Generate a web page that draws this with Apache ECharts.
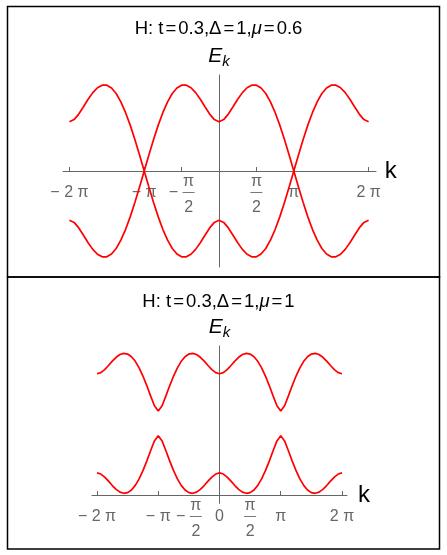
<!DOCTYPE html>
<html>
<head>
<meta charset="utf-8">
<script src="https://cdn.jsdelivr.net/npm/echarts@6/dist/echarts.min.js"></script>
<style>
  html, body { margin: 0; padding: 0; background: #fff; }
  #chart_view { width: 447px; height: 555px; }
</style>
</head>
<body>
<div id="chart_view"></div>
<script>
// k sample points, in sixteenths of pi
var kSixteenths = [-32, -31, -30, -29, -28, -27, -26, -25, -24, -23, -22, -21, -20, -19, -18, -17, -16,
    -15, -14, -13, -12, -11, -10, -9, -8, -7, -6, -5, -4, -3, -2, -1, 0,
    1, 2, 3, 4, 5, 6, 7, 8, 9, 10, 11, 12, 13, 14, 15, 16,
    17, 18, 19, 20, 21, 22, 23, 24, 25, 26, 27, 28, 29, 30, 31, 32];

// top panel (mu = 0.6), the two bands
var topBandA = [-1.2, -1.251, -1.385, -1.563, -1.746, -1.907, -2.026, -2.089, -2.088, -2.020, -1.885, -1.684, -1.425, -1.116, -0.767, -0.390, 0,
    0.390, 0.767, 1.116, 1.425, 1.684, 1.885, 2.020, 2.088, 2.089, 2.026, 1.907, 1.746, 1.563, 1.385, 1.251, 1.2,
    1.251, 1.385, 1.563, 1.746, 1.907, 2.026, 2.089, 2.088, 2.020, 1.885, 1.684, 1.425, 1.116, 0.767, 0.390, 0,
    -0.390, -0.767, -1.116, -1.425, -1.684, -1.885, -2.020, -2.088, -2.089, -2.026, -1.907, -1.746, -1.563, -1.385, -1.251, -1.2];
var topBandB = [1.2, 1.251, 1.385, 1.563, 1.746, 1.907, 2.026, 2.089, 2.088, 2.020, 1.885, 1.684, 1.425, 1.116, 0.767, 0.390, 0,
    -0.390, -0.767, -1.116, -1.425, -1.684, -1.885, -2.020, -2.088, -2.089, -2.026, -1.907, -1.746, -1.563, -1.385, -1.251, -1.2,
    -1.251, -1.385, -1.563, -1.746, -1.907, -2.026, -2.089, -2.088, -2.020, -1.885, -1.684, -1.425, -1.116, -0.767, -0.390, 0,
    0.390, 0.767, 1.116, 1.425, 1.684, 1.885, 2.020, 2.088, 2.089, 2.026, 1.907, 1.746, 1.563, 1.385, 1.251, 1.2];

// bottom panel (mu = 1)
var botUpper = [1.6, 1.636, 1.733, 1.866, 2.007, 2.132, 2.220, 2.257, 2.236, 2.151, 2.002, 1.792, 1.527, 1.219, 0.886, 0.567, 0.4,
    0.567, 0.886, 1.219, 1.527, 1.792, 2.002, 2.151, 2.236, 2.257, 2.220, 2.132, 2.007, 1.866, 1.733, 1.636, 1.6,
    1.636, 1.733, 1.866, 2.007, 2.132, 2.220, 2.257, 2.236, 2.151, 2.002, 1.792, 1.527, 1.219, 0.886, 0.567, 0.4,
    0.567, 0.886, 1.219, 1.527, 1.792, 2.002, 2.151, 2.236, 2.257, 2.220, 2.132, 2.007, 1.866, 1.733, 1.636, 1.6];
var botLower = [-1.6, -1.636, -1.733, -1.866, -2.007, -2.132, -2.220, -2.257, -2.236, -2.151, -2.002, -1.792, -1.527, -1.219, -0.886, -0.567, -0.4,
    -0.567, -0.886, -1.219, -1.527, -1.792, -2.002, -2.151, -2.236, -2.257, -2.220, -2.132, -2.007, -1.866, -1.733, -1.636, -1.6,
    -1.636, -1.733, -1.866, -2.007, -2.132, -2.220, -2.257, -2.236, -2.151, -2.002, -1.792, -1.527, -1.219, -0.886, -0.567, -0.4,
    -0.567, -0.886, -1.219, -1.527, -1.792, -2.002, -2.151, -2.236, -2.257, -2.220, -2.132, -2.007, -1.866, -1.733, -1.636, -1.6];

// tick labels (positions in units of pi)
var topTickPi = [-2, -1, -0.5, 0.5, 1, 2];
var topTickText = ['− 2 π', '− π', '−π/2', 'π/2', 'π', '2 π'];
var topTickMarks = [-2, -1, -0.5, 0.5, 1, 2];
var botTickPi = [-2, -1, -0.5, 0, 0.5, 1, 2];
var botTickText = ['− 2 π', '− π', '−π/2', '0', 'π/2', 'π', '2 π'];
var botTickMarks = [-2, -1, 1, 2];

// title pieces, split around the "=" signs
var topTitle = ['H: t', '0.3,Δ', '1,', '0.6'];
var botTitle = ['H: t', '0.3,Δ', '1,', '1'];

var FONT = '"Liberation Sans", Arial, sans-serif';
var PI = Math.PI;

function pairs(vals) {
    return kSixteenths.map(function (n, i) { return [n * PI / 16, vals[i]]; });
}
function rad(list) {
    return list.map(function (v) { return v * PI; });
}

// turn "π/2" style text into stacked rich text
function richTick(txt) {
    if (txt.indexOf('/') >= 0) {
        if (txt.charAt(0) === '−') {
            return '{nn|π}\n{m|− }{bar|}\n{dn|2}';
        }
        return '{n|π}\n{bar|}\n{d|2}';
    }
    return '{g1|}\n{m|' + txt + '}\n{g2|}';
}
var tickRich = {
    n: { fontSize: 16, color: '#666', fontFamily: FONT, lineHeight: 20 },
    d: { fontSize: 16, color: '#666', fontFamily: FONT, lineHeight: 29 },
    nn: { fontSize: 16, color: '#666', fontFamily: FONT, lineHeight: 20, padding: [0, 0, 0, 14] },
    dn: { fontSize: 16, color: '#666', fontFamily: FONT, lineHeight: 29, padding: [0, 0, 0, 14] },
    m: { fontSize: 16, color: '#666', fontFamily: FONT, lineHeight: 1 },
    bar: { width: 12, height: 1, backgroundColor: '#777' },
    g1: { height: 20 },
    g2: { height: 29 }
};

function makeXAxis(idx, min, max, tickPi, tickText, marks, offset) {
    return {
        gridIndex: idx, type: 'value', min: min, max: max,
        position: 'bottom', offset: offset,
        name: 'k', nameLocation: 'end', nameGap: 7,
        nameTextStyle: { fontSize: 24, color: '#000', fontFamily: FONT, verticalAlign: 'middle' },
        axisLine: { show: true, onZero: false, lineStyle: { color: '#666', width: 1 } },
        axisTick: { show: true, inside: true, length: 4, customValues: rad(marks), lineStyle: { color: '#666' } },
        axisLabel: {
            show: true, customValues: rad(tickPi), margin: 26, verticalAlign: 'middle',
            formatter: function (v) {
                var p = v / PI;
                for (var i = 0; i < tickPi.length; i++) {
                    if (Math.abs(tickPi[i] - p) < 1e-6) return richTick(tickText[i]);
                }
                return '';
            },
            rich: tickRich
        },
        splitLine: { show: false }
    };
}

function makeYAxis(idx, min, max) {
    return {
        gridIndex: idx, type: 'value', min: min, max: max,
        name: '{e|E}{s|k}', nameLocation: 'end', nameGap: 5.5,
        nameTextStyle: {
            align: 'center', verticalAlign: 'bottom',
            rich: {
                e: { fontSize: 21, fontStyle: 'italic', color: '#000', fontFamily: FONT, lineHeight: 22 },
                s: { fontSize: 15, fontStyle: 'italic', color: '#000', fontFamily: FONT, padding: [11, 0, 0, 0] }
            }
        },
        axisLine: { show: true, onZero: true, lineStyle: { color: '#666', width: 1 } },
        axisTick: { show: false },
        axisLabel: { show: false },
        splitLine: { show: false }
    };
}

function curve(vals, idx) {
    return {
        type: 'line', xAxisIndex: idx, yAxisIndex: idx,
        data: pairs(vals), showSymbol: false, smooth: false,
        lineStyle: { color: '#ff0000', width: 1.7 },
        silent: true
    };
}

var titleRich = {
    a: { fontSize: 18.5, color: '#000', fontFamily: FONT, fontWeight: 'normal', lineHeight: 20 },
    q: { fontSize: 18.5, color: '#000', fontFamily: FONT, fontWeight: 'normal', lineHeight: 20, padding: [0, 2, 0, 2] },
    m: { fontSize: 18.5, color: '#000', fontFamily: FONT, fontWeight: 'normal', fontStyle: 'italic', lineHeight: 20 }
};
function titleText(p) {
    return '{a|' + p[0] + '}{q|=}{a|' + p[1] + '}{q|=}{a|' + p[2] + '}{m|μ}{q|=}{a|' + p[3] + '}';
}

var myChart = echarts.init(document.getElementById('chart_view'), null, { renderer: 'canvas' });

var option = {
    animation: false,
    backgroundColor: '#fff',
    title: [
        { text: titleText(topTitle), left: 218.5, top: 19, textAlign: 'center', padding: 0, textStyle: { fontWeight: 'normal', rich: titleRich } },
        { text: titleText(botTitle), left: 218.5, top: 292, textAlign: 'center', padding: 0, textStyle: { fontWeight: 'normal', rich: titleRich } }
    ],
    grid: [
        { left: 63, top: 75, width: 313, height: 192, containLabel: false, outerBoundsMode: 'none' },
        { left: 92, top: 346, width: 255, height: 157.3, containLabel: false, outerBoundsMode: 'none' }
    ],
    xAxis: [
        makeXAxis(0, -6.553, 6.594, topTickPi, topTickText, topTickMarks, -96),
        makeXAxis(1, -6.54, 6.54, botTickPi, botTickText, botTickMarks, -8.3)
    ],
    yAxis: [
        makeYAxis(0, -2.336, 2.336),
        makeYAxis(1, -2.58, 2.496)
    ],
    series: [
        curve(topBandA, 0),
        curve(topBandB, 0),
        curve(botUpper, 1),
        curve(botLower, 1)
    ],
    graphic: [
        { type: 'rect', shape: { x: 7.5, y: 6.5, width: 432, height: 270.5 }, style: { fill: null, stroke: '#000', lineWidth: 1.5 }, silent: true },
        { type: 'rect', shape: { x: 7.5, y: 277, width: 432, height: 272 }, style: { fill: null, stroke: '#000', lineWidth: 1.5 }, silent: true }
    ]
};

myChart.setOption(option);
</script>
</body>
</html>
